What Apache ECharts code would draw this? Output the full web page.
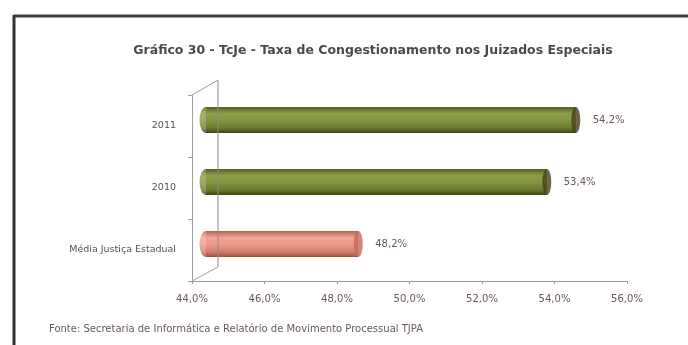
<!DOCTYPE html>
<html><head><meta charset="utf-8">
<script src="https://cdn.jsdelivr.net/npm/echarts@6/dist/echarts.min.js"></script>
<style>html,body{margin:0;padding:0;background:#fff}#c{width:688px;height:345px}</style>
</head><body><div id="c"></div>
<script>
const categories = ['Média Justiça Estadual', '2010', '2011'];
const values = [48.2, 53.4, 54.2];
const barKinds = ['media', 'year', 'year'];
const xMin = 44, xMax = 56, xStep = 2;
const titleText = 'Gráfico 30 - TcJe - Taxa de Congestionamento nos Juizados Especiais';
const sourceText = 'Fonte: Secretaria de Informática e Relatório de Movimento Processual TJPA';

const fmt = v => v.toFixed(1).replace('.', ',') + '%';
const grad = (stops) => ({type: 'linear', x: 0, y: 0, x2: 0, y2: 1,
  colorStops: stops.map((c, i) => ({offset: c[0], color: c[1]}))});
const palette = {
  year: {body: grad([[0, '#55601f'], [0.25, '#8c9d48'], [0.5, '#849641'], [0.8, '#6c7b30'], [1, '#3f4417']]), cap: '#4b4016'},
  media: {body: grad([[0, '#b8604e'], [0.25, '#f0a494'], [0.5, '#ec9a88'], [0.8, '#d27e6c'], [1, '#9c5040']]), cap: '#c46a58'}
};
const FONT = 'DejaVu Sans';

const chart = echarts.init(document.getElementById('c'), null, {renderer: 'canvas'});
chart.setOption({
  backgroundColor: '#ffffff',
  animation: false,
  title: [
    {text: titleText, left: 368, top: 39, textAlign: 'center',
     textStyle: {fontFamily: FONT, fontSize: 12.5, fontWeight: 'bold', color: '#4a4a4a'}},
    {text: sourceText, left: 44, top: 319,
     textStyle: {fontFamily: FONT, fontSize: 10, fontWeight: 'normal', color: '#6a5a58'}}
  ],
  grid: [
    {left: 192, right: 61, top: 95, bottom: 64},
    {left: 206, right: 47, top: 89, bottom: 70}
  ],
  xAxis: [
    {gridIndex: 0, type: 'value', min: xMin, max: xMax, interval: xStep,
     axisLine: {show: true, lineStyle: {color: '#9a9a9a'}},
     axisTick: {show: true, length: 3, lineStyle: {color: '#9a9a9a'}},
     splitLine: {show: false},
     axisLabel: {margin: 13, formatter: fmt, fontFamily: FONT, fontSize: 10, color: '#6e5656'}},
    {gridIndex: 1, type: 'value', min: xMin, max: xMax, show: false}
  ],
  yAxis: [
    {gridIndex: 0, type: 'category', data: categories,
     axisLine: {show: true, lineStyle: {color: '#a0a0a0'}},
     axisTick: {show: true, length: 4, lineStyle: {color: '#a0a0a0'}},
     axisLabel: {margin: 16, fontFamily: FONT, fontSize: 9.5,
       color: '#5a5048'}},
    {gridIndex: 1, type: 'category', data: categories, show: false}
  ],
  series: [
    {type: 'scatter', xAxisIndex: 1, yAxisIndex: 1, z: 2, silent: true,
     symbol: 'circle', symbolSize: [13, 26],
     data: values.map((v, i) => ({value: [xMin, i], itemStyle: {color: palette[barKinds[i]].body}}))},
    {type: 'bar', xAxisIndex: 1, yAxisIndex: 1, z: 3, barWidth: 26,
     data: values.map((v, i) => ({value: v, itemStyle: {color: palette[barKinds[i]].body}})),
     label: {show: true, position: 'right', distance: 17, formatter: p => fmt(p.value),
       fontFamily: FONT, fontSize: 10, color: '#6e5656'}},
    {type: 'scatter', xAxisIndex: 1, yAxisIndex: 1, z: 4, silent: true,
     symbol: 'circle', symbolSize: [9, 26],
     data: values.map((v, i) => ({value: [v, i], itemStyle: {color: palette[barKinds[i]].cap}}))}
  ],
  graphic: [
    {type: 'line', z: 100, shape: {x1: 14, y1: 16, x2: 688, y2: 16}, style: {stroke: '#3c3c3c', lineWidth: 3}},
    {type: 'line', z: 100, shape: {x1: 14, y1: 15, x2: 14, y2: 345}, style: {stroke: '#333333', lineWidth: 3}},
    {type: 'line', z: 100, shape: {x1: 218, y1: 80, x2: 218, y2: 267}, style: {stroke: '#8a8a8a', lineWidth: 1}},
    {type: 'line', z: 100, shape: {x1: 192, y1: 95, x2: 218, y2: 80}, style: {stroke: '#a0a0a0', lineWidth: 1}},
    {type: 'line', z: 100, shape: {x1: 192, y1: 281, x2: 218, y2: 267}, style: {stroke: '#a0a0a0', lineWidth: 1}}
  ]
});
</script>
</body></html>
